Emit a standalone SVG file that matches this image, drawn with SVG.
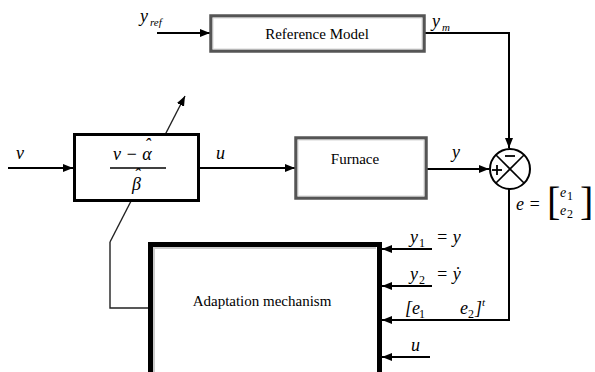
<svg xmlns="http://www.w3.org/2000/svg" width="595" height="372" viewBox="0 0 595 372">
<defs>
<marker id="ah" markerWidth="10" markerHeight="8" refX="10" refY="4" orient="auto" markerUnits="userSpaceOnUse">
<path d="M0,0 L10,4 L0,8 Z" fill="#000"/>
</marker>
<style>
.ln{fill:none;stroke:#000;stroke-width:2}
.thin{fill:none;stroke:#222;stroke-width:1.4}
.lbl{font-family:"Liberation Serif",serif;font-size:15px;fill:#000}
.m{font-family:"Liberation Serif",serif;font-style:italic;font-size:18px;fill:#000}
.ms{font-family:"Liberation Serif",serif;font-style:italic;font-size:11px;fill:#000}
.n{font-family:"Liberation Serif",serif;font-size:12px;fill:#000}
.br{font-family:"Liberation Serif",serif;font-size:40px;fill:#000}
</style>
</defs>
<rect width="595" height="372" fill="#fff"/>
<g id="connectors">
<line class="ln" x1="157" y1="33" x2="210" y2="33" marker-end="url(#ah)"/>
<polyline class="ln" points="425,33 509,33 509,148" marker-end="url(#ah)"/>
<line class="ln" x1="8" y1="168" x2="73" y2="168" marker-end="url(#ah)"/>
<line class="ln" x1="200" y1="168" x2="295" y2="168" marker-end="url(#ah)"/>
<line class="ln" x1="427" y1="169" x2="489" y2="169" marker-end="url(#ah)"/>
<polyline class="ln" points="509,189 509,320 382,320" marker-end="url(#ah)"/>
<line class="ln" x1="432" y1="249" x2="382" y2="249" marker-end="url(#ah)"/>
<line class="ln" x1="432" y1="286" x2="382" y2="286" marker-end="url(#ah)"/>
<line class="ln" x1="430" y1="357" x2="382" y2="357" marker-end="url(#ah)"/>
<line class="thin" x1="110" y1="242" x2="185" y2="96" marker-end="url(#ah)"/>
<polyline class="thin" points="110,242 110,308 148,308"/>
</g>
<g id="refmodel">
<rect x="211" y="16" width="213" height="35" fill="#fff" stroke="#555" stroke-width="3.5"/>
<rect x="213" y="18" width="209" height="31" fill="none" stroke="#ddd" stroke-width="1.2"/>
<text class="lbl" x="317" y="39" text-anchor="middle">Reference Model</text>
</g>
<g id="controller">
<rect x="74.5" y="134.5" width="124" height="66" fill="#fff" stroke="#000" stroke-width="3"/>
<text class="m" x="113" y="160">v − α<tspan dx="-7" dy="-9">ˆ</tspan></text>
<line x1="110" y1="168" x2="166" y2="168" stroke="#000" stroke-width="1.3"/>
<text class="m" x="132" y="190">β<tspan dx="-7" dy="-9">ˆ</tspan></text>
</g>
<g id="furnace">
<rect x="296" y="138" width="130" height="60" fill="#fff" stroke="#555" stroke-width="3.5"/>
<rect x="298" y="140" width="126" height="56" fill="none" stroke="#ddd" stroke-width="1.2"/>
<text class="lbl" x="355" y="164" text-anchor="middle">Furnace</text>
</g>
<g id="sum">
<circle cx="510" cy="169" r="20" fill="#fff" stroke="#000" stroke-width="2"/>
<line x1="496" y1="155" x2="524" y2="183" stroke="#000" stroke-width="1.6"/>
<line x1="524" y1="155" x2="496" y2="183" stroke="#000" stroke-width="1.6"/>
<line x1="505" y1="156" x2="515" y2="156" stroke="#000" stroke-width="1.8"/>
<line x1="492" y1="170" x2="502" y2="170" stroke="#000" stroke-width="1.8"/>
<line x1="497" y1="165" x2="497" y2="175" stroke="#000" stroke-width="1.8"/>
</g>
<g id="adaptation">
<rect x="150.5" y="244.5" width="229" height="130" fill="#fff" stroke="#000" stroke-width="5"/>
<polyline points="154,372 154,248 376,248" fill="none" stroke="#ccc" stroke-width="2"/>
<text class="lbl" x="262" y="306" text-anchor="middle">Adaptation mechanism</text>
</g>
<g id="labels">
<text class="m" x="140" y="22">y</text><text class="ms" x="150" y="26">ref</text>
<text class="m" x="432" y="27">y</text><text class="ms" x="442" y="31">m</text>
<text class="m" x="16" y="159">v</text>
<text class="m" x="216" y="159">u</text>
<text class="m" x="452" y="158">y</text>
<text class="m" x="516" y="210">e =</text>
<text class="br" x="547" y="215">[</text>
<text class="br" x="580" y="215">]</text>
<text class="ms" x="560" y="197" style="font-size:14px">e</text><text class="n" x="567" y="200">1</text>
<text class="ms" x="560" y="215" style="font-size:14px">e</text><text class="n" x="567" y="218">2</text>
<text class="m" x="410" y="243">y</text><text class="n" x="419" y="247">1</text><text class="m" x="436" y="243">= y</text>
<text class="m" x="410" y="280">y</text><text class="n" x="419" y="284">2</text><text class="m" x="436" y="280">= ẏ</text>
<text class="m" x="405" y="314">[e</text><text class="n" x="419" y="318">1</text>
<text class="m" x="460" y="314">e</text><text class="n" x="468" y="318">2</text><text class="m" x="475" y="314">]</text><text class="ms" x="482" y="306">t</text>
<text class="m" x="411" y="351">u</text>
</g>
</svg>
